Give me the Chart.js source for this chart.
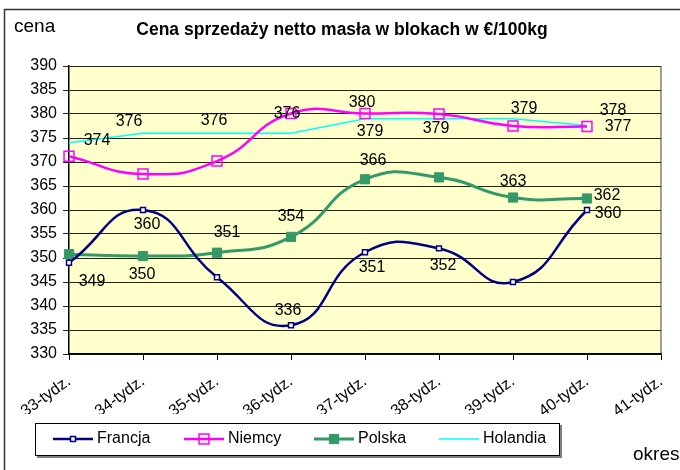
<!DOCTYPE html>
<html>
<head>
<meta charset="utf-8">
<script src="https://cdn.jsdelivr.net/npm/chart.js@4.4.1/dist/chart.umd.min.js"></script>
<style>
  html, body { margin: 0; padding: 0; background: #fff; overflow: hidden; }
  #wrap { width: 680px; height: 470px; position: relative; }
</style>
</head>
<body>
<div id="wrap"><canvas id="chart" width="680" height="470"></canvas></div>
<script>
// okresy (tygodnie)
const weeks = ['33-tydz.', '34-tydz.', '35-tydz.', '36-tydz.', '37-tydz.', '38-tydz.', '39-tydz.', '40-tydz.', '41-tydz.'];

// ceny €/100kg
const francja  = [349, 360, 346, 336, 351.2, 352, 345, 360];
const niemcy   = [371.2, 367.5, 370.2, 380.1, 380.1, 380, 377.5, 377.4];
const polska   = [350.8, 350.4, 351.1, 354.4, 366.4, 366.8, 362.6, 362.4];
const holandia = [374, 376, 376, 376, 379, 379, 379, 377.6];

const yTicks = [330, 335, 340, 345, 350, 355, 360, 365, 370, 375, 380, 385, 390];

// przesunięcia etykiet danych względem punktu (null = brak etykiety)
const labelOffsets = [
    [[23, 19], [4, 15], null, [-3, -15], [7, 15], [4, 17], null, [21, 4]],
    [null, null, null, null, [-3, -11], null, null, [31, 0]],
    [null, [-1, 19], [10, -20], [0, -20], [8, -19], null, [0, -16], [20, -3]],
    [[28, -2], [-14, -12], [-3, -13], [-4, -20], [5, 13], [-3, 10], [11, -10], [26, -15]]
];
const legendX = [53, 184, 314, 439];

const FONT = '"Liberation Sans", Arial, sans-serif';

const frame = {
    id: 'frame',
    beforeDraw(chart) {
        const { ctx, chartArea: a } = chart;
        ctx.save();
        ctx.fillStyle = '#ffffcc';
        ctx.fillRect(a.left, a.top, a.right - a.left, a.bottom - a.top);
        ctx.strokeStyle = '#808080';
        ctx.lineWidth = 1.5;
        ctx.beginPath();
        ctx.moveTo(a.right, a.top);
        ctx.lineTo(a.right, a.bottom);
        ctx.stroke();
        // ramka całego wykresu
        ctx.strokeStyle = '#333';
        ctx.lineWidth = 1.5;
        ctx.strokeRect(4.5, 9.5, 720, 520);
        ctx.restore();
    },
    afterDraw(chart) {
        const ctx = chart.ctx;
        ctx.save();
        ctx.fillStyle = '#000';
        ctx.textBaseline = 'middle';
        ctx.font = 'bold 17.5px ' + FONT;
        ctx.textAlign = 'center';
        ctx.fillText('Cena sprzedaży netto masła w blokach w €/100kg', 342, 30);
        ctx.font = '19px ' + FONT;
        ctx.textAlign = 'left';
        ctx.fillText('cena', 14, 27);
        ctx.fillText('okres', 633, 455);

        // etykiety danych
        ctx.font = '16px ' + FONT;
        ctx.textAlign = 'center';
        chart.data.datasets.forEach((ds, di) => {
            const meta = chart.getDatasetMeta(di);
            meta.data.forEach((pt, i) => {
                const off = labelOffsets[di][i];
                if (!off) return;
                ctx.fillText(String(Math.round(ds.data[i])), pt.x + off[0], pt.y + off[1]);
            });
        });

        // legenda
        ctx.fillStyle = '#808080';
        ctx.fillRect(37, 456, 525, 2);
        ctx.fillRect(560, 425, 2, 33);
        ctx.strokeStyle = '#000';
        ctx.lineWidth = 1;
        ctx.fillStyle = '#fff';
        ctx.fillRect(35.5, 423.5, 524, 32);
        ctx.strokeRect(35.5, 423.5, 524, 32);
        const ly = 439;
        chart.data.datasets.forEach((ds, di) => {
            const x0 = legendX[di];
            ctx.strokeStyle = ds.borderColor;
            ctx.lineWidth = ds.borderWidth;
            ctx.beginPath();
            ctx.moveTo(x0, ly);
            ctx.lineTo(x0 + 40, ly);
            ctx.stroke();
            if (ds.pointRadius > 0) {
                const s = ds.pointRadius * Math.SQRT1_2;
                ctx.lineWidth = ds.pointBorderWidth;
                ctx.strokeStyle = ds.pointBorderColor;
                ctx.fillStyle = ds.pointBackgroundColor;
                ctx.fillRect(x0 + 20 - s, ly - s, 2 * s, 2 * s);
                ctx.strokeRect(x0 + 20 - s, ly - s, 2 * s, 2 * s);
            }
            ctx.fillStyle = '#000';
            ctx.textAlign = 'left';
            ctx.fillText(ds.label, x0 + 44, ly);
        });
        ctx.restore();
    }
};

new Chart(document.getElementById('chart'), {
    type: 'line',
    data: {
        labels: weeks,
        datasets: [
            {
                label: 'Francja', data: francja,
                borderColor: '#000080', borderWidth: 2.5, tension: 0.5,
                pointStyle: 'rect', pointRadius: 3.5, pointBorderWidth: 1.5,
                pointBorderColor: '#000080', pointBackgroundColor: '#ffffff'
            },
            {
                label: 'Niemcy', data: niemcy,
                borderColor: '#ff00ff', borderWidth: 2.5, tension: 0.5,
                pointStyle: 'rect', pointRadius: 7, pointBorderWidth: 1.5,
                pointBorderColor: '#ff00ff', pointBackgroundColor: 'rgba(255,255,204,0)'
            },
            {
                label: 'Polska', data: polska,
                borderColor: '#339966', borderWidth: 3, tension: 0.5,
                pointStyle: 'rect', pointRadius: 6.5, pointBorderWidth: 1,
                pointBorderColor: '#339966', pointBackgroundColor: '#339966'
            },
            {
                label: 'Holandia', data: holandia,
                borderColor: '#00ffff', borderWidth: 1.5, tension: 0,
                pointRadius: 0, pointBorderWidth: 0,
                pointBorderColor: '#00ffff', pointBackgroundColor: '#00ffff'
            }
        ]
    },
    options: {
        responsive: false,
        animation: false,
        layout: { padding: { top: 66, left: 0, right: 19, bottom: 56 } },
        plugins: {
            legend: { display: false },
            title: { display: false },
            tooltip: { enabled: false }
        },
        scales: {
            x: {
                offset: false,
                afterFit(scale) {
                    scale.height = 60;
                    scale.paddingRight = 0;
                    scale.paddingLeft = 0;
                },
                grid: { drawOnChartArea: false, drawTicks: true, tickLength: 6, color: '#000' },
                border: { color: '#000', width: 1.5 },
                ticks: {
                    autoSkip: false, maxRotation: 36, minRotation: 36, padding: 12,
                    color: '#000', font: { family: FONT, size: 16 }
                }
            },
            y: {
                min: 330, max: 390,
                afterFit(scale) { scale.width = 69; },
                afterBuildTicks(scale) { scale.ticks = yTicks.map(v => ({ value: v })); },
                grid: { color: '#222', lineWidth: 1, tickLength: 6 },
                border: { color: '#000', width: 1.5 },
                ticks: { padding: 6, color: '#000', font: { family: FONT, size: 16 } }
            }
        }
    },
    plugins: [frame]
});
</script>
</body>
</html>
